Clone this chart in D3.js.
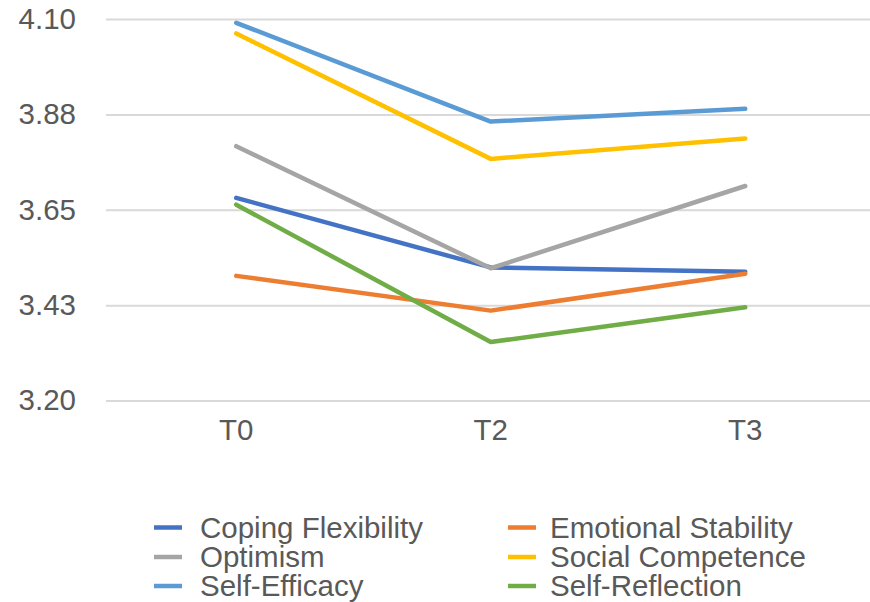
<!DOCTYPE html>
<html>
<head>
<meta charset="utf-8">
<script src="https://cdn.jsdelivr.net/npm/d3@7/dist/d3.min.js"></script>
<style>
  html, body { margin: 0; padding: 0; background: #fff; }
  svg { display: block; }
  text { font-family: "Liberation Sans", Arial, sans-serif; fill: #595959; }
</style>
</head>
<body>
<svg id="chart" width="870" height="602"></svg>
<script>
// Measurement waves
const categories = ["T0", "T2", "T3"];

// Mean scores per construct at each wave
const copingFlexibility  = [3.678, 3.514, 3.504];
const emotionalStability = [3.494, 3.412, 3.499];
const optimism           = [3.800, 3.512, 3.706];
const socialCompetence   = [4.066, 3.770, 3.818];
const selfEfficacy       = [4.091, 3.858, 3.888];
const selfReflection     = [3.662, 3.338, 3.420];

const seriesNames  = ["Coping Flexibility", "Emotional Stability", "Optimism",
                      "Social Competence", "Self-Efficacy", "Self-Reflection"];
const seriesValues = [copingFlexibility, emotionalStability, optimism,
                      socialCompetence, selfEfficacy, selfReflection];
const seriesColors = ["#4472C4", "#ED7D31", "#A5A5A5", "#FFC000", "#5B9BD5", "#70AD47"];

// Value axis ticks
const tickValues = [3.2, 3.425, 3.65, 3.875, 4.1];
const tickLabels = ["3.20", "3.43", "3.65", "3.88", "4.10"];

const svg = d3.select("#chart");

const x = d3.scaleBand().domain(categories).range([109, 872.5]).padding(0);
const y = d3.scaleLinear().domain([3.2, 4.1]).range([400.5, 19]);

const cx = c => x(c) + x.bandwidth() / 2;

// Horizontal gridlines
const grid = svg.append("g")
  .attr("transform", "translate(106,0)")
  .call(d3.axisLeft(y).tickValues(tickValues).tickSize(-764).tickFormat(""));
grid.select(".domain").remove();
grid.selectAll(".tick line").attr("stroke", "#d9d9d9").attr("stroke-width", 2);

// Value axis labels
const yAxis = svg.append("g")
  .attr("transform", "translate(76,0)")
  .call(d3.axisLeft(y).tickValues(tickValues).tickSize(0).tickPadding(0)
        .tickFormat((d, i) => tickLabels[i]));
yAxis.select(".domain").remove();
yAxis.selectAll("text")
  .attr("font-size", 29.5)
  .attr("font-family", "'Liberation Sans', Arial, sans-serif")
  .attr("fill", "#595959");

// Category axis labels
const xAxis = svg.append("g")
  .attr("transform", "translate(0,440)")
  .call(d3.axisBottom(x).tickSize(0).tickPadding(0));
xAxis.select(".domain").remove();
xAxis.selectAll("text")
  .attr("font-size", 29.5)
  .attr("y", 0)
  .attr("dy", "0")
  .attr("font-family", "'Liberation Sans', Arial, sans-serif")
  .attr("fill", "#595959");

// Series lines
const line = d3.line()
  .x((d, i) => cx(categories[i]))
  .y(d => y(d));

svg.append("g")
  .selectAll("path")
  .data(seriesValues)
  .join("path")
  .attr("d", d => line(d))
  .attr("fill", "none")
  .attr("stroke", (d, i) => seriesColors[i])
  .attr("stroke-width", 4.5)
  .attr("stroke-linecap", "round")
  .attr("stroke-linejoin", "round");

// Legend: two columns, three rows
const legendCols = [154, 508];
const legendRows = [527.5, 557, 586];
const legend = svg.append("g")
  .selectAll("g")
  .data(seriesNames)
  .join("g")
  .attr("transform", (d, i) => `translate(${legendCols[i % 2]},${legendRows[Math.floor(i / 2)]})`);

legend.append("line")
  .attr("x1", 0).attr("x2", 28)
  .attr("y1", 0).attr("y2", 0)
  .attr("stroke", (d, i) => seriesColors[i])
  .attr("stroke-width", 4.5);

legend.append("text")
  .attr("x", (d, i) => i % 2 === 0 ? 46 : 42)
  .attr("y", 0)
  .attr("dy", "0.35em")
  .attr("font-size", 29.5)
  .text(d => d);
</script>
</body>
</html>
